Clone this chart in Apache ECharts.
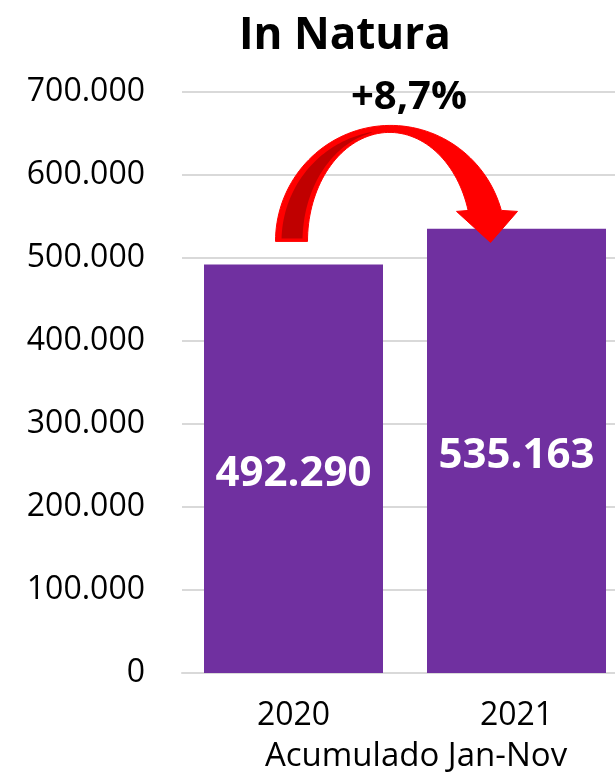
<!DOCTYPE html>
<html>
<head>
<meta charset="utf-8">
<script src="https://cdn.jsdelivr.net/npm/echarts@6/dist/echarts.min.js"></script>
<style>
html,body{margin:0;padding:0;background:#fff;}
#chart{width:615px;height:772px;}
</style>
</head>
<body>
<div id="chart"></div>
<script>
const titleText = 'In Natura';
const categories = ['2020', '2021'];
const values = [492290, 535163];
const changeLabel = '+8,7%';
const axisName = 'Acumulado Jan-Nov';
const yMin = 0, yMax = 700000, yInterval = 100000;

function fmt(v) {
  return String(Math.round(v)).replace(/\B(?=(\d{3})+(?!\d))/g, '.');
}

const FONT = '"Open Sans", sans-serif';
const chart = echarts.init(document.getElementById('chart'));
chart.setOption({
  animation: false,
  backgroundColor: '#ffffff',
  title: {
    text: titleText,
    left: 234, top: 9,
    textStyle: { fontFamily: FONT, fontSize: 44, fontWeight: 'bold', color: '#000' }
  },
  grid: { left: 182, right: -13, top: 92, bottom: 99, containLabel: false, outerBoundsMode: 'none' },
  xAxis: {
    type: 'category',
    data: categories,
    name: axisName,
    nameLocation: 'middle',
    nameGap: 67,
    nameTextStyle: { fontFamily: FONT, fontSize: 33, color: '#000', padding: [0, 0, 0, 22] },
    axisLine: { show: true, lineStyle: { color: '#d9d9d9', width: 2 } },
    axisTick: { show: false },
    axisLabel: { fontFamily: FONT, fontSize: 32, color: '#000', margin: 27 }
  },
  yAxis: {
    type: 'value',
    min: yMin, max: yMax, interval: yInterval,
    axisLine: { show: false },
    axisTick: { show: false },
    splitLine: { lineStyle: { color: '#d9d9d9', width: 2 } },
    axisLabel: { fontFamily: FONT, fontSize: 32, color: '#000', margin: 37, formatter: fmt }
  },
  series: [{
    type: 'bar',
    data: values,
    barWidth: 179,
    itemStyle: { color: '#7030a0' },
    label: {
      show: true, position: 'inside', offset: [0, 5],
      formatter: p => fmt(p.value),
      fontFamily: FONT, fontSize: 42, fontWeight: 'bold', color: '#fff'
    }
  }]
});

// Decorative curved arrow, anchored at the top of the first bar
function arcPts(cx, cy, rx, ry, a0, a1, n) {
  const pts = [];
  for (let i = 0; i <= n; i++) {
    const a = (a0 + (a1 - a0) * i / n) * Math.PI / 180;
    pts.push([cx + rx * Math.cos(a), cy + ry * Math.sin(a)]);
  }
  return pts;
}
const p1 = chart.convertToPixel({ seriesIndex: 0 }, [0, values[0]]);
const p2 = chart.convertToPixel({ seriesIndex: 0 }, [1, values[1]]);
const ox = p1[0], oy = p1[1];
function shift(pts) { return pts.map(p => [p[0] + ox, p[1] + oy]); }

const outer = arcPts(97, -23, 115, 116, 180, 344.5, 70);
const inner = arcPts(96, -23, 82, 109, 343.5, 180, 70);
const mainPts = shift([].concat(outer, [[224, -53], [197, -22], [163, -53]], inner));
const darkOuter = arcPts(97, -23, 110, 112, 181, 262, 40);
const darkInner = arcPts(96, -23, 86, 110, 258, 181, 40);
const darkPts = shift([].concat(darkOuter, darkInner));

chart.setOption({
  graphic: [
    {
      type: 'polygon', z: 100,
      shape: { points: mainPts },
      style: { fill: '#ff0000', stroke: '#ff0000', lineWidth: 1, lineJoin: 'round' }
    },
    {
      type: 'polygon', z: 101,
      shape: { points: darkPts },
      style: { fill: '#c00000', stroke: '#ff0000', lineWidth: 2 }
    },
    {
      type: 'text', z: 102,
      x: (p1[0] + p2[0]) / 2 + 4, y: 98,
      style: {
        text: changeLabel, fontFamily: FONT, fontSize: 40, fontWeight: 'bold',
        fill: '#000', align: 'center', verticalAlign: 'middle'
      }
    }
  ]
});
</script>
</body>
</html>
